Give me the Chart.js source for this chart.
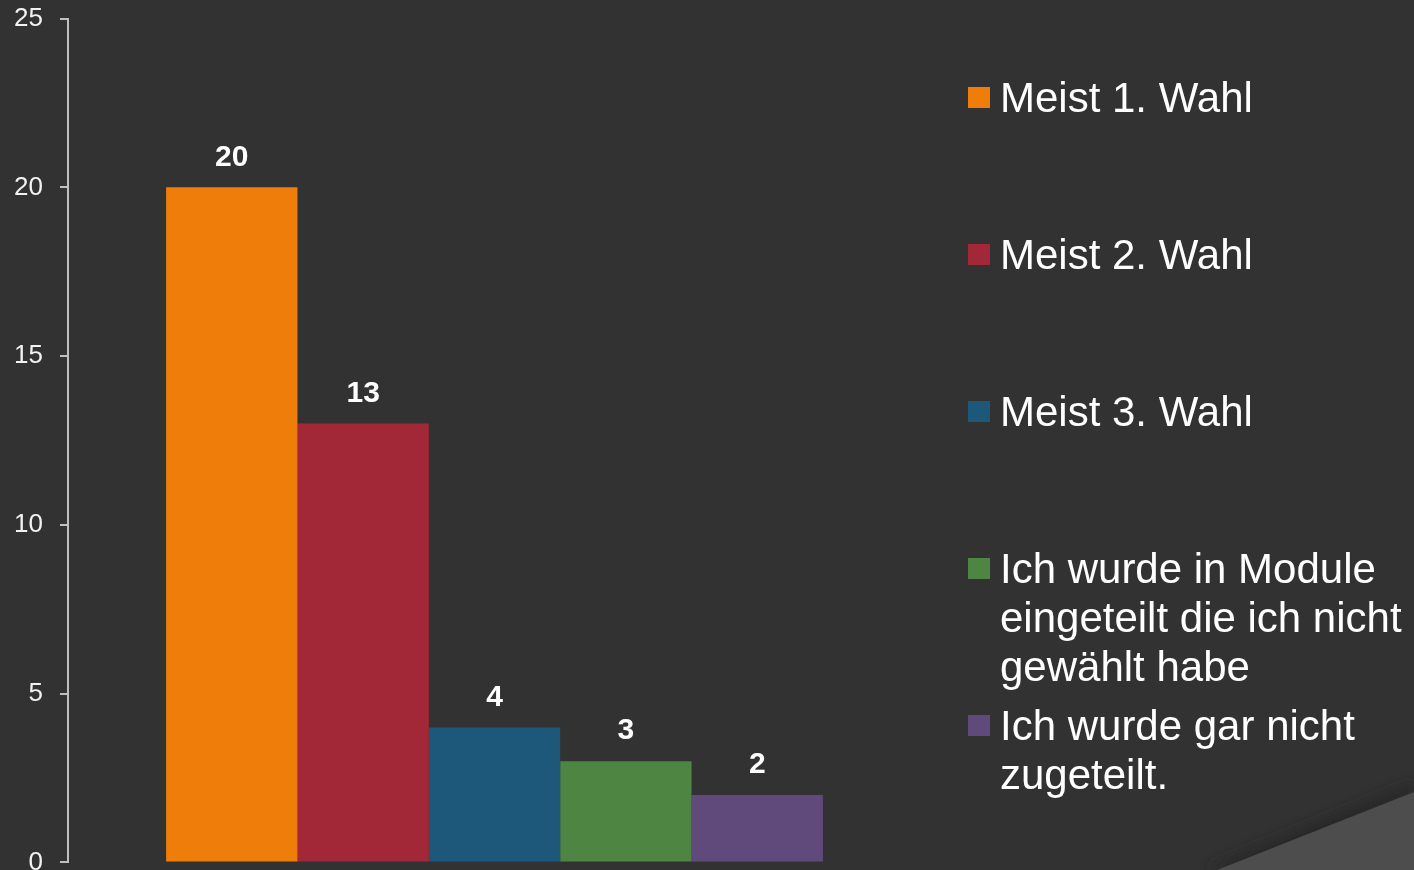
<!DOCTYPE html>
<html>
<head>
<meta charset="utf-8">
<script src="https://cdn.jsdelivr.net/npm/chart.js@4.4.1/dist/chart.umd.min.js"></script>
<style>
  html, body { margin: 0; padding: 0; background: #323232; overflow: hidden; }
  body { width: 1414px; height: 870px; position: relative; font-family: "Liberation Sans", Arial, sans-serif; }
  #chart-wrap { position: absolute; left: 0; top: -14px; width: 1414px; height: 909px; }
  #deco { position: absolute; left: 0; top: 0; }
  #legend { position: absolute; left: 968px; top: 73px; margin: 0; padding: 0; list-style: none; }
  #legend li { position: relative; height: 157px; color: #ffffff; font-size: 42px; line-height: 49px; white-space: pre-line; padding-left: 32px; }
  #legend .box { position: absolute; left: 0; top: 14px; width: 22px; height: 21px; }
</style>
</head>
<body>
<svg id="deco" width="1414" height="870">
  <defs>
    <filter id="soft" x="-20%" y="-40%" width="140%" height="180%">
      <feGaussianBlur stdDeviation="6"/>
    </filter>
  </defs>
  <polygon points="1210,866 1414,782 1414,870 1210,870" fill="#272727" filter="url(#soft)" opacity="0.8"/>
  <polygon points="1217,870 1414,792 1414,870" fill="#4d4d4d"/>
</svg>
<div id="chart-wrap"><canvas id="chart"></canvas></div>
<ul id="legend"></ul>
<script>
  // --- Daten ---
  const categories = [""];
  const seriesNames = [
    "Meist 1. Wahl",
    "Meist 2. Wahl",
    "Meist 3. Wahl",
    "Ich wurde in Module\neingeteilt die ich nicht\ngewählt habe",
    "Ich wurde gar nicht\nzugeteilt."
  ];
  const seriesValues = [20, 13, 4, 3, 2];
  const seriesColors = ["#ef7d0a", "#a22837", "#1d5779", "#4e8542", "#604a7b"];
  const yTicks = [0, 5, 10, 15, 20, 25];

  // Werte über den Balken
  const valueLabels = {
    id: "valueLabels",
    afterDatasetsDraw(chart) {
      const ctx = chart.ctx;
      ctx.save();
      ctx.fillStyle = "#ffffff";
      ctx.font = "bold 30px 'Liberation Sans', Arial, sans-serif";
      ctx.textAlign = "center";
      ctx.textBaseline = "middle";
      chart.data.datasets.forEach((ds, i) => {
        chart.getDatasetMeta(i).data.forEach((bar, j) => {
          ctx.fillText(String(ds.data[j]), bar.x, bar.y - 30);
        });
      });
      ctx.restore();
    }
  };

  const datasets = seriesNames.map((name, i) => ({
    label: name,
    data: [seriesValues[i]],
    backgroundColor: seriesColors[i],
    borderWidth: 0,
    barPercentage: 1.0,
    categoryPercentage: 0.77
  }));

  new Chart(document.getElementById("chart"), {
    type: "bar",
    data: { labels: categories, datasets: datasets },
    options: {
      responsive: true,
      maintainAspectRatio: false,
      animation: false,
      layout: { padding: { left: 14, right: 493, top: 5, bottom: 0 } },
      plugins: { legend: { display: false }, tooltip: { enabled: false } },
      scales: {
        x: { display: false },
        y: {
          min: 0,
          max: 25,
          afterBuildTicks: (axis) => { axis.ticks = yTicks.map(v => ({ value: v })); },
          afterFit: (axis) => { axis.width = 54; },
          border: { display: true, color: "#bfbfbf", width: 2 },
          grid: { drawOnChartArea: false, drawTicks: true, tickLength: 8, color: "#bfbfbf", lineWidth: 2 },
          ticks: { color: "#f2f2f2", padding: 17, font: { family: "'Liberation Sans', Arial, sans-serif", size: 26 } }
        }
      }
    },
    plugins: [valueLabels]
  });

  // Legende als HTML
  const legend = document.getElementById("legend");
  seriesNames.forEach((name, i) => {
    const li = document.createElement("li");
    const box = document.createElement("span");
    box.className = "box";
    box.style.background = seriesColors[i];
    li.appendChild(box);
    li.appendChild(document.createTextNode(name));
    legend.appendChild(li);
  });
</script>
</body>
</html>
